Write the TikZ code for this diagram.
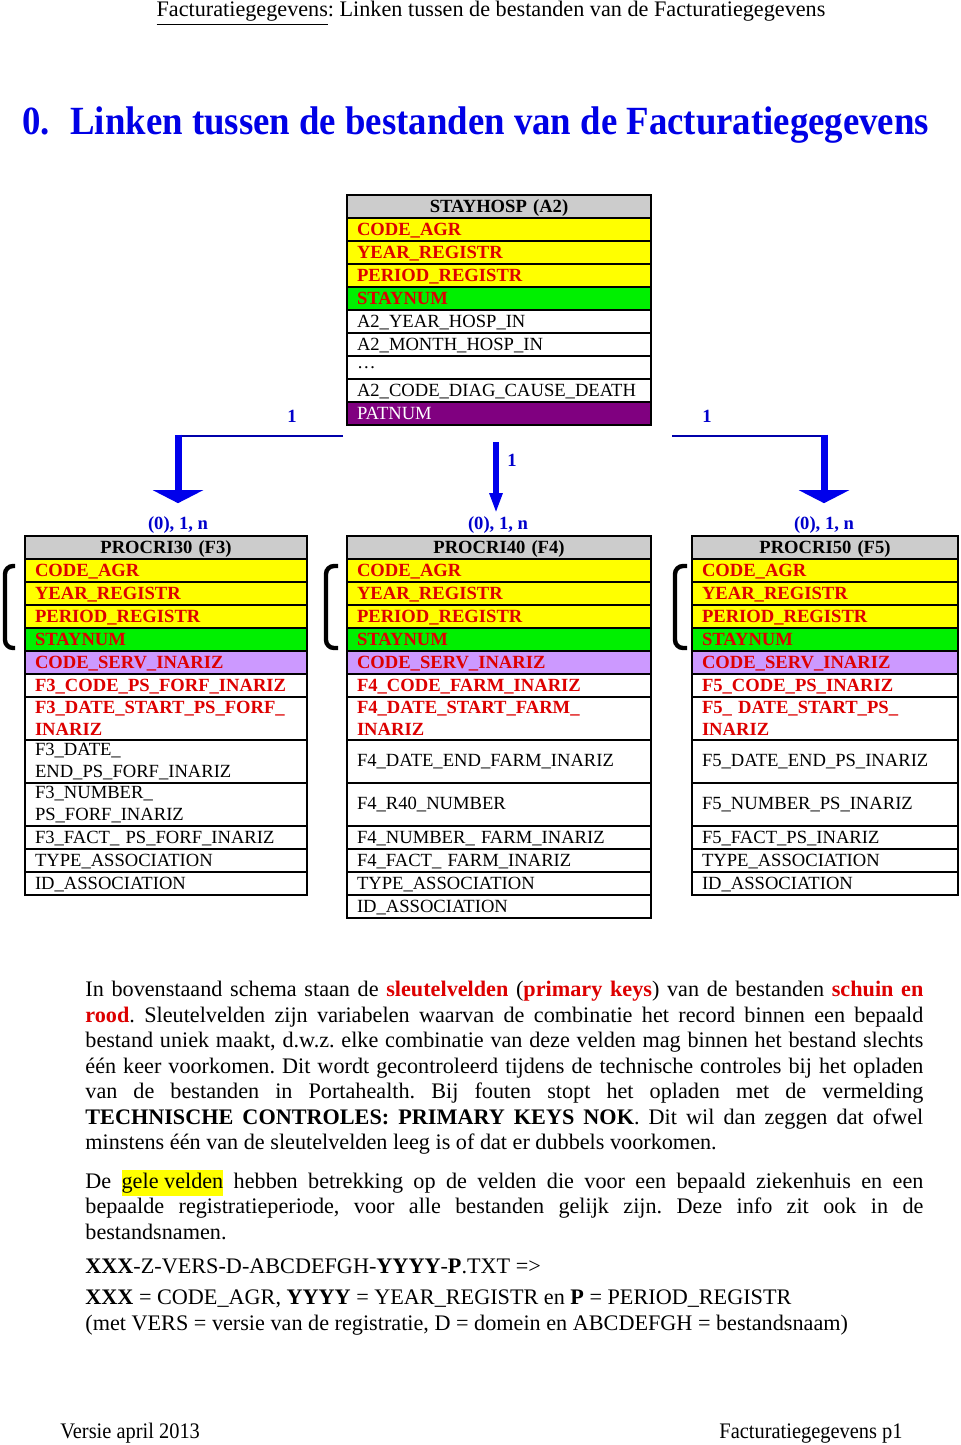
\documentclass[tikz,border=0pt]{standalone}
\usepackage{fontspec}
\setmainfont{Liberation Serif}
\newfontfamily\condserif{Liberation Serif}[FakeStretch=0.92]
\usepackage{xcolor}
\usetikzlibrary{positioning,calc,arrows.meta}
\hyphenpenalty=10000
\exhyphenpenalty=10000
\frenchspacing

\definecolor{headgray}{RGB}{204,204,204}
\definecolor{agryellow}{RGB}{255,255,0}
\definecolor{staygreen}{RGB}{0,240,0}
\definecolor{servlilac}{RGB}{204,153,255}
\definecolor{patpurple}{RGB}{128,0,128}
\definecolor{keyred}{RGB}{221,0,0}
\definecolor{cardblue}{RGB}{0,0,204}
\definecolor{titleblue}{RGB}{0,0,230}
\definecolor{feedblue}{RGB}{0,0,170}
\definecolor{dropblue}{RGB}{0,0,235}

\newcommand{\tabfont}{\fontsize{9.3}{11}\selectfont}
\newcommand{\bodyfont}{\fontsize{11.1}{12.75}\selectfont}
\newcommand{\jline}[1]{\makebox[419pt][s]{#1}}
\newcommand{\rood}[1]{\textbf{\textcolor{keyred}{#1}}}
\newcommand{\geel}[1]{{\setlength{\fboxsep}{0pt}\colorbox{agryellow}{\strut #1}}}

\tikzstyle{tabcell} = [rectangle, draw, line width=0.6pt, inner xsep=5pt,
    inner ysep=0pt, outer sep=0pt, minimum height=11.5pt, align=left,
    text depth=0pt, font=\tabfont]
\tikzstyle{dbl} = [minimum height=21.5pt, text depth=]
\tikzstyle{tabhead} = [tabcell, fill=headgray, align=center, font=\tabfont\bfseries]
\tikzstyle{tabkey} = [tabcell, text=keyred, font=\tabfont\bfseries]
\tikzstyle{agr} = [tabkey, fill=agryellow]
\tikzstyle{stay} = [tabkey, fill=staygreen]
\tikzstyle{serv} = [tabkey, fill=servlilac]
\tikzstyle{pat} = [tabcell, fill=patpurple, text=white]
\tikzstyle{card} = [font=\tabfont\bfseries, text=cardblue, inner sep=1pt]
\tikzstyle{feed} = [draw=feedblue, line width=1.3pt]
\tikzstyle{drop} = [draw=dropblue, line width=3.5pt, shorten >=5.5pt,
    -{Triangle[width=25pt,length=6.5pt]}]
\tikzstyle{dropnarrow} = [draw=dropblue, line width=3pt, shorten >=0.5pt,
    -{Triangle[width=6pt,length=10pt]}]
\tikzstyle{keybracket} = [draw, line width=2.2pt, rounded corners=4pt]
\tikzstyle{bodytext} = [font=\bodyfont, align=left, inner sep=0pt]
\tikzstyle{titletext} = [bodytext, font=\condserif\fontsize{20}{22}\selectfont\bfseries, text=titleblue]
\tikzstyle{foottext} = [bodytext, font=\condserif\fontsize{11.1}{12.75}\selectfont]

\begin{document}
\begin{tikzpicture}[x=0.5pt, y=-0.5pt]
  \fill[white] (0,0) rectangle (960,1445);
  \useasboundingbox (0,0) rectangle (960,1445);

  % Page header and title
  \node[bodytext, anchor=base] (header) at (491,17)
    {\underline{Facturatiegegevens}: Linken tussen de bestanden van de Facturatiegegevens};
  \node[titletext, anchor=base west] (titlenum) at (22,134) {0.};
  \node[titletext, anchor=base west] (titletxt) at (70,134) {Linken tussen de bestanden van de Facturatiegegevens};

  % Place nodes: STAYHOSP
  \begin{scope}[every node/.append style={text width=142pt, minimum height=11.6pt}]
    \node[tabhead, anchor=north west] (a2h) at (347,195) {STAYHOSP (A2)};
    \node[agr, below=0pt of a2h] (a2agr) {CODE\_AGR};
    \node[agr, below=0pt of a2agr] (a2year) {YEAR\_REGISTR};
    \node[agr, below=0pt of a2year] (a2per) {PERIOD\_REGISTR};
    \node[stay, below=0pt of a2per] (a2stay) {STAYNUM};
    \node[tabcell, below=0pt of a2stay] (a2yin) {A2\_YEAR\_HOSP\_IN};
    \node[tabcell, below=0pt of a2yin] (a2min) {A2\_MONTH\_HOSP\_IN};
    \node[tabcell, below=0pt of a2min] (a2dots) {…};
    \node[tabcell, below=0pt of a2dots] (a2diag) {A2\_CODE\_DIAG\_CAUSE\_DEATH};
    \node[pat, below=0pt of a2diag] (a2pat) {PATNUM};
  \end{scope}

  % Place nodes: PROCRI30
  \begin{scope}[every node/.append style={text width=131pt}]
    \node[tabhead, anchor=north west] (f3h) at (25,536) {PROCRI30 (F3)};
    \node[agr, below=0pt of f3h] (f3agr) {CODE\_AGR};
    \node[agr, below=0pt of f3agr] (f3year) {YEAR\_REGISTR};
    \node[agr, below=0pt of f3year] (f3per) {PERIOD\_REGISTR};
    \node[stay, below=0pt of f3per] (f3stay) {STAYNUM};
    \node[serv, below=0pt of f3stay] (f3serv) {CODE\_SERV\_INARIZ};
    \node[tabkey, below=0pt of f3serv] (f3code) {F3\_CODE\_PS\_FORF\_INARIZ};
    \node[tabkey, dbl, below=0pt of f3code] (f3start) {F3\_DATE\_START\_PS\_FORF\_\\INARIZ};
    \node[tabcell, dbl, below=0pt of f3start] (f3end) {F3\_DATE\_\\END\_PS\_FORF\_INARIZ};
    \node[tabcell, dbl, below=0pt of f3end] (f3num) {F3\_NUMBER\_\\PS\_FORF\_INARIZ};
    \node[tabcell, below=0pt of f3num] (f3fact) {F3\_FACT\_ PS\_FORF\_INARIZ};
    \node[tabcell, below=0pt of f3fact] (f3type) {TYPE\_ASSOCIATION};
    \node[tabcell, below=0pt of f3type] (f3id) {ID\_ASSOCIATION};
  \end{scope}

  % Place nodes: PROCRI40
  \begin{scope}[every node/.append style={text width=142pt}]
    \node[tabhead, anchor=north west] (f4h) at (347,536) {PROCRI40 (F4)};
    \node[agr, below=0pt of f4h] (f4agr) {CODE\_AGR};
    \node[agr, below=0pt of f4agr] (f4year) {YEAR\_REGISTR};
    \node[agr, below=0pt of f4year] (f4per) {PERIOD\_REGISTR};
    \node[stay, below=0pt of f4per] (f4stay) {STAYNUM};
    \node[serv, below=0pt of f4stay] (f4serv) {CODE\_SERV\_INARIZ};
    \node[tabkey, below=0pt of f4serv] (f4code) {F4\_CODE\_FARM\_INARIZ};
    \node[tabkey, dbl, below=0pt of f4code] (f4start) {F4\_DATE\_START\_FARM\_\\INARIZ};
    \node[tabcell, dbl, below=0pt of f4start] (f4end) {F4\_DATE\_END\_FARM\_INARIZ};
    \node[tabcell, dbl, below=0pt of f4end] (f4r40) {F4\_R40\_NUMBER};
    \node[tabcell, below=0pt of f4r40] (f4num) {F4\_NUMBER\_ FARM\_INARIZ};
    \node[tabcell, below=0pt of f4num] (f4fact) {F4\_FACT\_ FARM\_INARIZ};
    \node[tabcell, below=0pt of f4fact] (f4type) {TYPE\_ASSOCIATION};
    \node[tabcell, below=0pt of f4type] (f4id) {ID\_ASSOCIATION};
  \end{scope}

  % Place nodes: PROCRI50
  \begin{scope}[every node/.append style={text width=123pt}]
    \node[tabhead, anchor=north west] (f5h) at (692,536) {PROCRI50 (F5)};
    \node[agr, below=0pt of f5h] (f5agr) {CODE\_AGR};
    \node[agr, below=0pt of f5agr] (f5year) {YEAR\_REGISTR};
    \node[agr, below=0pt of f5year] (f5per) {PERIOD\_REGISTR};
    \node[stay, below=0pt of f5per] (f5stay) {STAYNUM};
    \node[serv, below=0pt of f5stay] (f5serv) {CODE\_SERV\_INARIZ};
    \node[tabkey, below=0pt of f5serv] (f5code) {F5\_CODE\_PS\_INARIZ};
    \node[tabkey, dbl, below=0pt of f5code] (f5start) {F5\_ DATE\_START\_PS\_\\INARIZ};
    \node[tabcell, dbl, below=0pt of f5start] (f5end) {F5\_DATE\_END\_PS\_INARIZ};
    \node[tabcell, dbl, below=0pt of f5end] (f5num) {F5\_NUMBER\_PS\_INARIZ};
    \node[tabcell, below=0pt of f5num] (f5fact) {F5\_FACT\_PS\_INARIZ};
    \node[tabcell, below=0pt of f5fact] (f5type) {TYPE\_ASSOCIATION};
    \node[tabcell, below=0pt of f5type] (f5id) {ID\_ASSOCIATION};
  \end{scope}

  % Cardinalities
  \node[card] (one3) at (292,416) {1};
  \node[card] (one5) at (707,416) {1};
  \node[card] (one4) at (512,460) {1};
  \node[card] (c3) at (178,525) {(0), 1, n};
  \node[card] (c4) at (498,525) {(0), 1, n};
  \node[card] (c5) at (824,525) {(0), 1, n};

  % Draw edges
  \coordinate (l3) at ($(a2pat.south west)+(-4,11)$);
  \coordinate (l4) at ($(a2pat.south)+(-3,17)$);
  \coordinate (l5) at ($(a2pat.south east)+(21,11)$);
  \draw[feed] (l3) -- (l3 -| c3);
  \draw[drop] ([yshift=0.65pt]l3 -| c3) -- (c3.north);
  \draw[feed] (l5) -- (l5 -| c5);
  \draw[drop] ([yshift=0.65pt]l5 -| c5) -- (c5.north);
  \draw[dropnarrow] (l4) -- (l4 |- c4.north);

  % Key brackets
  \draw[keybracket] ($(f3agr.north west)+(-10,7)$) -- ++(-10,0) |- ($(f3stay.south west)+(-10,-3)$);
  \draw[keybracket] ($(f4agr.north west)+(-9,7)$) -- ++(-12,0) |- ($(f4stay.south west)+(-9,-3)$);
  \draw[keybracket] ($(f5agr.north west)+(-5,7)$) -- ++(-12,0) |- ($(f5stay.south west)+(-5,-3)$);

  % Explanation
  \node[bodytext, anchor=north west] (keys) at (85,981) {%
    \jline{In bovenstaand schema staan de \rood{sleutelvelden} (\rood{primary keys}) van de bestanden \rood{schuin en}}\\
    \jline{\rood{rood}. Sleutelvelden zijn variabelen waarvan de combinatie het record binnen een bepaald}\\
    \jline{bestand uniek maakt, d.w.z. elke combinatie van deze velden mag binnen het bestand slechts}\\
    \jline{één keer voorkomen. Dit wordt gecontroleerd tijdens de technische controles bij het opladen}\\
    \jline{van de bestanden in Portahealth. Bij fouten stopt het opladen met de vermelding}\\
    \jline{\textbf{TECHNISCHE CONTROLES: PRIMARY KEYS NOK}. Dit wil dan zeggen dat ofwel}\\
    minstens één van de sleutelvelden leeg is of dat er dubbels voorkomen.};
  \node[bodytext, anchor=north west] (gele) at (85,1170) {%
    \jline{De \geel{gele velden} hebben betrekking op de velden die voor een bepaald ziekenhuis en een}\\
    \jline{bepaalde registratieperiode, voor alle bestanden gelijk zijn. Deze info zit ook in de}\\
    bestandsnamen.};
  \node[bodytext, anchor=base west] (fname) at (85,1273)
    {\textbf{XXX}-Z-VERS-D-ABCDEFGH-\textbf{YYYY}-\textbf{P}.TXT =>};
  \node[bodytext, anchor=base west] (fparts) at (85,1330)
    {\textbf{XXX} = CODE\_AGR, \textbf{YYYY} = YEAR\_REGISTR en \textbf{P} = PERIOD\_REGISTR\\
     (met VERS = versie van de registratie, D = domein en ABCDEFGH = bestandsnaam)};

  % Page footer
  \node[foottext, anchor=base west] (footl) at (60,1438) {Versie april 2013};
  \node[foottext, anchor=base east] (footr) at (903,1438) {Facturatiegegevens p1};
\end{tikzpicture}
\end{document}
